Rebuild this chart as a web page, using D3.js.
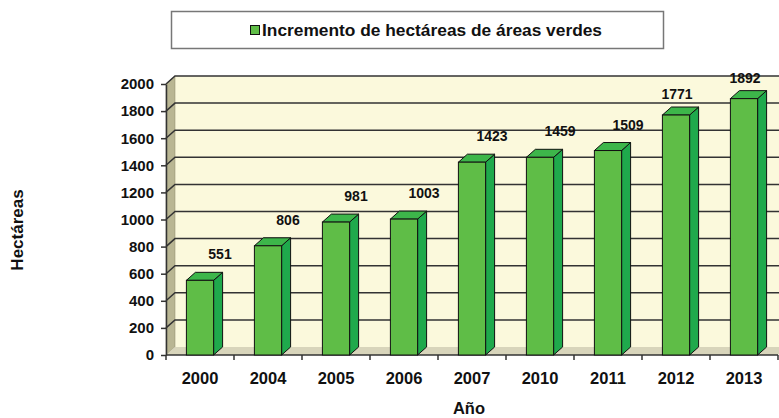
<!DOCTYPE html>
<html>
<head>
<meta charset="utf-8">
<script src="https://cdn.jsdelivr.net/npm/d3@7"></script>
<style>
  body { margin: 0; background: #fff; }
  svg { display: block; font-family: "Liberation Sans", Arial, sans-serif; }
</style>
</head>
<body>
<svg width="779" height="418"></svg>
<script>
const years = ["2000", "2004", "2005", "2006", "2007", "2010", "2011", "2012", "2013"];
const hectares = [551, 806, 981, 1003, 1423, 1459, 1509, 1771, 1892];
const yTicks = [0, 200, 400, 600, 800, 1000, 1200, 1400, 1600, 1800, 2000];
const seriesName = "Incremento de hectáreas de áreas verdes";

const svg = d3.select("svg");
const data = years.map((y, i) => ({ year: y, value: hectares[i] }));

// plot frame (front edge) and fake 3D depth
const plotLeft = 166, plotRight = 778, plotBottom = 355, plotTop = 84;
const dx = 9, dy = -8;

const x = d3.scaleBand().domain(years).range([plotLeft, plotRight])
  .paddingInner(0.6).paddingOuter(0.3);
const y = d3.scaleLinear().domain([0, 2000]).range([plotBottom, plotTop]);

const poly = pts => pts.map(p => p.join(",")).join(" ");

// walls
svg.append("rect")
  .attr("x", plotLeft + dx).attr("y", plotTop + dy)
  .attr("width", plotRight - plotLeft).attr("height", plotBottom - plotTop)
  .attr("fill", "#fbf9dc");
svg.append("polygon")
  .attr("points", poly([[plotLeft, plotBottom], [plotLeft + dx, plotBottom + dy], [plotLeft + dx, plotTop + dy], [plotLeft, plotTop]]))
  .attr("fill", "#b9b693").attr("stroke", "#8a876a").attr("stroke-width", 0.5);
svg.append("polygon")
  .attr("points", poly([[plotLeft, plotBottom], [plotRight, plotBottom], [plotRight + dx, plotBottom + dy], [plotLeft + dx, plotBottom + dy]]))
  .attr("fill", "#d8d5bb");

// gridlines on back wall and left wall
const grid = svg.append("g").attr("stroke", "#333").attr("stroke-width", 1.5).attr("fill", "none");
yTicks.filter(v => v > 0).forEach(v => {
  grid.append("polyline")
    .attr("points", poly([[plotLeft, y(v)], [plotLeft + dx, y(v) + dy], [plotRight + dx, y(v) + dy]]));
});

// y axis
const yAxis = svg.append("g")
  .attr("transform", `translate(${plotLeft},0)`)
  .call(d3.axisLeft(y).tickValues(yTicks).tickFormat(d3.format("d"))
    .tickSize(5).tickPadding(7).tickSizeOuter(0));
yAxis.select(".domain").attr("stroke", "#333").attr("stroke-width", 1.5);
yAxis.selectAll(".tick line").attr("stroke", "#333").attr("stroke-width", 1.5);
yAxis.selectAll("text").attr("font-size", 15).attr("font-weight", "bold").attr("fill", "#111")
  .attr("font-family", "Liberation Sans, Arial, sans-serif");

// x axis
const boundaries = d3.range(years.length + 1).map(i => plotLeft + i * x.step());
svg.append("line").attr("x1", plotLeft).attr("x2", plotRight).attr("y1", plotBottom).attr("y2", plotBottom)
  .attr("stroke", "#333").attr("stroke-width", 1.5);
svg.append("g").selectAll("line").data(boundaries).join("line")
  .attr("x1", d => d).attr("x2", d => d).attr("y1", plotBottom).attr("y2", plotBottom + 5)
  .attr("stroke", "#333").attr("stroke-width", 1.5);
svg.append("g").selectAll("text").data(years).join("text")
  .attr("x", d => plotLeft + (years.indexOf(d) + 0.5) * x.step())
  .attr("y", 384)
  .attr("text-anchor", "middle")
  .attr("font-size", 16.5).attr("font-weight", "bold").attr("fill", "#111")
  .text(d => d);

// bars
const bars = svg.append("g").selectAll("g").data(data).join("g");
bars.append("polygon") // side
  .attr("points", d => {
    const x1 = x(d.year) + x.bandwidth();
    return poly([[x1, plotBottom], [x1 + dx, plotBottom + dy], [x1 + dx, y(d.value) + dy], [x1, y(d.value)]]);
  })
  .attr("fill", "#1fa94c").attr("stroke", "#111").attr("stroke-width", 1);
bars.append("polygon") // top
  .attr("points", d => {
    const x0 = x(d.year), x1 = x0 + x.bandwidth(), t = y(d.value);
    return poly([[x0, t], [x1, t], [x1 + dx, t + dy], [x0 + dx, t + dy]]);
  })
  .attr("fill", "#3db64a").attr("stroke", "#111").attr("stroke-width", 1);
bars.append("rect") // front
  .attr("x", d => x(d.year)).attr("y", d => y(d.value))
  .attr("width", x.bandwidth()).attr("height", d => plotBottom - y(d.value))
  .attr("fill", "#5fbd47").attr("stroke", "#111").attr("stroke-width", 1);

// value labels
bars.append("text")
  .attr("x", d => x(d.year) + x.bandwidth() / 2 + (d.value > 1700 ? 1 : 20))
  .attr("y", d => y(d.value) - (d.value > 1700 ? 16 : 21))
  .attr("text-anchor", "middle")
  .attr("font-size", 14).attr("font-weight", "bold").attr("fill", "#111")
  .text(d => d.value);

// axis titles
svg.append("text")
  .attr("transform", "translate(23,230) rotate(-90)")
  .attr("text-anchor", "middle")
  .attr("font-size", 17).attr("font-weight", "bold").attr("fill", "#111")
  .text("Hectáreas");
svg.append("text")
  .attr("x", 469).attr("y", 413.5)
  .attr("text-anchor", "middle")
  .attr("font-size", 16.5).attr("font-weight", "bold").attr("fill", "#111")
  .text("Año");

// legend
const legend = svg.append("g");
legend.append("rect")
  .attr("x", 171.5).attr("y", 11.5).attr("width", 492).attr("height", 37)
  .attr("fill", "#fff").attr("stroke", "#777").attr("stroke-width", 1.5);
legend.append("rect")
  .attr("x", 250.5).attr("y", 25.5).attr("width", 9).attr("height", 9)
  .attr("fill", "#5fbd47").attr("stroke", "#111").attr("stroke-width", 1);
legend.append("text")
  .attr("x", 262).attr("y", 36)
  .attr("font-size", 16).attr("font-weight", "bold").attr("fill", "#111")
  .attr("textLength", 340).attr("lengthAdjust", "spacingAndGlyphs")
  .text(seriesName);
</script>
</body>
</html>
